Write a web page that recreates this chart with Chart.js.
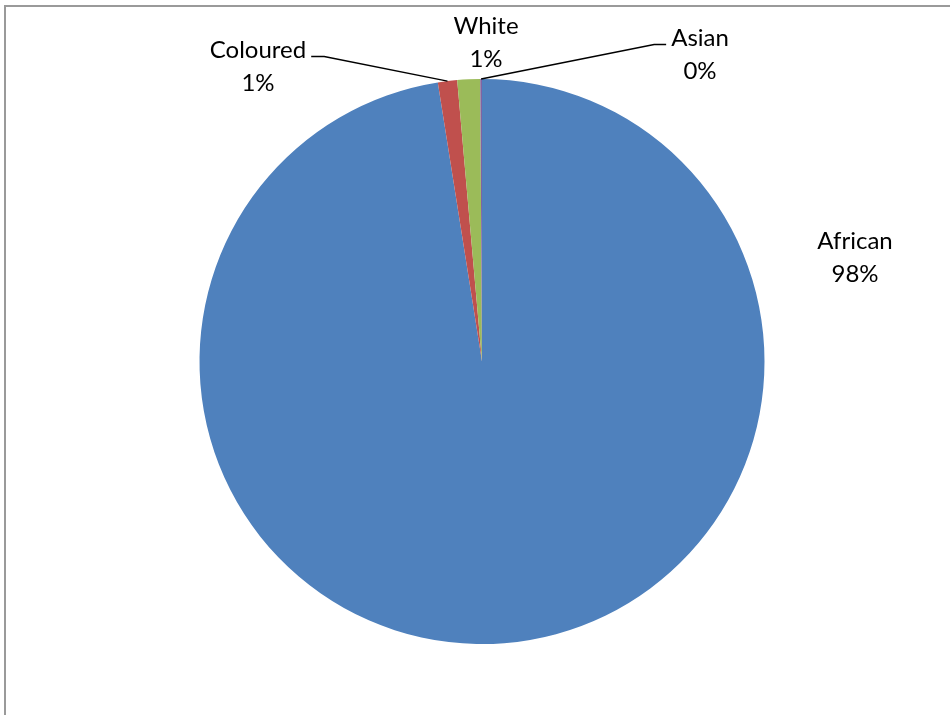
<!DOCTYPE html>
<html>
<head>
<meta charset="utf-8">
<style>
  html, body { margin: 0; padding: 0; background: #ffffff; }
  #wrap { width: 950px; height: 715px; position: relative; }
</style>
<script src="https://cdn.jsdelivr.net/npm/chart.js@4/dist/chart.umd.min.js"></script>
</head>
<body>
<div id="wrap"><canvas id="pie" width="950" height="715"></canvas></div>
<script>
// Population group shares (percent)
const categories = ['African', 'Coloured', 'White', 'Asian'];
const shares = [97.5, 1.1, 1.3, 0.1];
const sliceColors = ['#4F81BD', '#C0504D', '#9BBB59', '#8064A2'];

// Label placement relative to the pie centre (px), and which labels get leader lines
const labelOffsets = [
  { dx: 373, dy: -120 },
  { dx: -224, dy: -311 },
  { dx: 4, dy: -335 },
  { dx: 218, dy: -323 }
];
const leaderSide = [null, 'right', null, 'left'];

const FONT = '24px Lato, "Open Sans", sans-serif';
const LINE_GAP = 33;

const frame = {
  id: 'frame',
  beforeDraw(chart) {
    const c = chart.ctx;
    c.save();
    c.strokeStyle = '#9a9a9a';
    c.lineWidth = 2;
    c.beginPath();
    c.moveTo(5, 715);
    c.lineTo(5, 6);
    c.lineTo(950, 6);
    c.stroke();
    c.restore();
  }
};

const outsideLabels = {
  id: 'outsideLabels',
  afterDatasetsDraw(chart) {
    const c = chart.ctx;
    const meta = chart.getDatasetMeta(0);
    const total = shares.reduce((a, b) => a + b, 0);
    c.save();
    c.font = FONT;
    c.fillStyle = '#000000';
    c.textAlign = 'center';
    c.textBaseline = 'middle';
    meta.data.forEach((arc, i) => {
      const p = arc.getProps(['x', 'y', 'startAngle', 'endAngle', 'outerRadius'], true);
      const lx = p.x + labelOffsets[i].dx;
      const ly = p.y + labelOffsets[i].dy;
      const pct = Math.round(shares[i] / total * 100) + '%';
      c.fillText(categories[i], lx, ly);
      c.fillText(pct, lx, ly + LINE_GAP);

      if (leaderSide[i]) {
        const mid = (p.startAngle + p.endAngle) / 2;
        const ex = p.x + Math.cos(mid) * p.outerRadius;
        const ey = p.y + Math.sin(mid) * p.outerRadius;
        const w = c.measureText(categories[i]).width;
        const sx = leaderSide[i] === 'right' ? lx + w / 2 + 5 : lx - w / 2 - 5;
        const kx = leaderSide[i] === 'right' ? sx + 13 : sx - 12;
        const sy = ly + 6;
        c.strokeStyle = '#000000';
        c.lineWidth = 1.5;
        c.beginPath();
        c.moveTo(sx, sy);
        c.lineTo(kx, sy);
        c.lineTo(ex, ey);
        c.stroke();
      }
    });
    c.restore();
  }
};

new Chart(document.getElementById('pie'), {
  type: 'pie',
  data: {
    labels: categories,
    datasets: [{
      data: shares,
      backgroundColor: sliceColors,
      borderWidth: 0
    }]
  },
  options: {
    responsive: false,
    animation: false,
    events: [],
    layout: { padding: { left: 199.5, right: 185.5, top: 79, bottom: 71 } },
    plugins: {
      legend: { display: false },
      tooltip: { enabled: false }
    }
  },
  plugins: [frame, outsideLabels]
});
</script>
</body>
</html>
